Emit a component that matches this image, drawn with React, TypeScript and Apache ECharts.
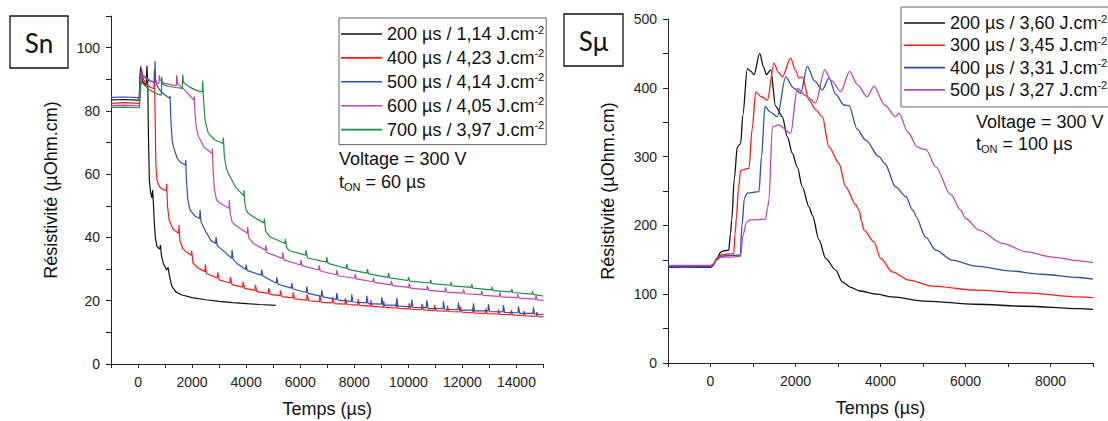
import React, { useEffect, useRef } from 'react';
import * as echarts from 'echarts';

const FONT = '"Liberation Sans", Arial, sans-serif';

// ---------- Sn panel ----------
const snPulse = ['200 µs', '400 µs', '500 µs', '600 µs', '700 µs'];
const snFluence = ['1,14', '4,23', '4,14', '4,05', '3,97'];
const snColors = ['#111111', '#ff1a1a', '#2f4fa8', '#b948b3', '#238b45'];
const snXRange = [-1000, 15000];
const snYRange = [0, 110];

const sn200: [number, number][] = [
  [-1000, 83.5], [-500, 83.6], [0, 83.4], [40, 83.5], [70, 91], [100, 94], [160, 89.5], [250, 88.5], [300, 88],
  [330, 94.3], [360, 89], [385, 72], [420, 58], [460, 54.5], [510, 52.5], [540, 55], [570, 50.5], [600, 45],
  [640, 40], [700, 37.2], [800, 36.3], [830, 37.6], [870, 34], [950, 31.5], [1060, 29.7], [1110, 30.6],
  [1160, 28], [1250, 24.6], [1400, 22.8], [1600, 21.9], [2000, 21], [2500, 20.3], [3000, 19.8], [3500, 19.4],
  [4000, 19.1], [4500, 18.8], [5100, 18.5],
];

const sn400: [number, number][] = [
  [-1000, 82.4], [-500, 82.6], [0, 82.4], [50, 82.5], [100, 90], [137, 93], [200, 90], [300, 88.5], [450, 87.5],
  [590, 87], [603, 92.8], [630, 80], [660, 63], [700, 58], [800, 56], [950, 55], [1045, 54.8], [1061, 57],
  [1090, 50], [1150, 45.5], [1300, 42.6], [1503, 41.3], [1517, 43.9], [1550, 39], [1650, 36.5], [1800, 35.3],
  [1972, 34.4], [1986, 35.8], [2030, 32], [2200, 30.4], [2477, 29.2], [2491, 31.5], [2530, 28.6],
  [2934, 27.2], [2946, 29], [3005, 26.6], [3403, 25.6], [3415, 27.5], [3474, 25.1],
  [3872, 24.3], [3884, 26], [3943, 23.9], [4328, 23.3], [4340, 25], [4399, 22.9],
  [4821, 22.3], [4833, 24], [4892, 22], [5253, 21.6], [5265, 23.2], [5324, 21.3],
  [5722, 20.9], [5734, 22.6], [5793, 20.6], [6240, 20.2], [6252, 22], [6311, 20],
  [6712, 19.7], [6724, 21.5], [6783, 19.5], [7184, 19.3], [7196, 21.1], [7255, 19.1],
  [7656, 18.9], [7668, 20.8], [7727, 18.8], [8128, 18.6], [8140, 20.5], [8199, 18.5],
  [8600, 18.3], [8612, 20.1], [8671, 18.2], [9072, 18.0], [9084, 19.8], [9143, 17.9],
  [9544, 17.7], [9556, 19.5], [9615, 17.6], [10016, 17.4], [10028, 19.2], [10087, 17.3],
  [10488, 17.2], [10500, 19.0], [10559, 17.1], [10960, 16.9], [10972, 18.6], [11031, 16.8],
  [11432, 16.7], [11444, 18.4], [11503, 16.6], [11904, 16.5], [11916, 18.1], [11975, 16.4],
  [12376, 16.2], [12388, 17.8], [12447, 16.1], [12848, 16.0], [12860, 17.5], [12919, 15.9],
  [13320, 15.8], [13332, 17.2], [13391, 15.7], [13792, 15.6], [13804, 17.0], [13863, 15.5],
  [14264, 15.3], [14276, 16.7], [14335, 15.2], [14736, 15.1], [14748, 16.4], [14807, 15.0],
  [15000, 14.9],
];

const sn500: [number, number][] = [
  [-1000, 84.3], [-500, 84.4], [0, 84.2], [50, 84.3], [80, 91], [100, 92.4], [200, 91], [350, 89.8], [500, 89.2],
  [615, 89], [629, 95.8], [650, 90], [700, 88], [800, 86.6], [1000, 85], [1170, 84], [1184, 84.8], [1215, 77],
  [1260, 71], [1307, 68.7], [1450, 65], [1600, 63.6], [1750, 62.9], [1764, 64.5], [1790, 58], [1840, 52],
  [1924, 48.7], [2100, 46.8], [2280, 46], [2294, 48.7], [2330, 45], [2479, 42.3], [2700, 39], [2872, 38.1],
  [2886, 40.2], [2930, 37.4], [3133, 36], [3464, 33.4], [3478, 36], [3520, 33], [3700, 31.5], [3982, 29.9],
  [3996, 31.4], [4040, 29.5], [4562, 28.1], [4576, 29.8], [4620, 27.8], [5118, 25.5], [5132, 27.4], [5180, 25.2],
  [5673, 24], [5687, 25.6], [5730, 23.7], [6227, 22.6], [6241, 24.5], [6290, 22.3], [6782, 21.4], [6796, 23.4],
  [6840, 21.2], [7337, 20.4], [7351, 22.4], [7400, 20.2], [7892, 19.8], [7906, 22], [7950, 19.6], [8447, 19.3],
  [8461, 21.6], [8510, 19.1], [9002, 18.9], [9016, 21.1], [9060, 18.7], [9557, 18.5], [9571, 20.8], [9620, 18.3],
  [10113, 18.1], [10127, 20.3], [10170, 17.9], [10668, 17.8], [10682, 20.1], [10730, 17.6], [11283, 17.5],
  [11297, 19.8], [11340, 17.3], [11838, 17.2], [11852, 19.4], [11900, 17.0], [12393, 17.0], [12407, 19.2],
  [12450, 16.8], [12948, 16.8], [12962, 18.9], [13010, 16.6], [13503, 16.5], [13517, 18.6], [13560, 16.3],
  [14058, 16.2], [14072, 18.2], [14120, 16.0], [14613, 16.0], [14627, 17.9], [14670, 15.8], [15000, 15.7],
];

const sn600: [number, number][] = [
  [-1000, 81.7], [-500, 81.8], [0, 81.6], [50, 81.7], [90, 89], [130, 91.8], [250, 90.8], [450, 89.6], [650, 88.9],
  [771, 88.7], [785, 91.3], [810, 89.8], [950, 88.8], [1200, 88.3], [1417, 88], [1431, 91.3], [1460, 88.6],
  [1650, 87.2], [1850, 85.5], [2066, 83.4], [2080, 84.6], [2110, 79], [2160, 74.5], [2232, 72], [2450, 68.5],
  [2736, 66.6], [2750, 68.1], [2775, 62], [2820, 55.5], [2900, 52], [3034, 50.8], [3365, 49.2], [3379, 51.8],
  [3410, 47.5], [3480, 45], [3589, 43.9], [4044, 41.3], [4058, 43.4], [4090, 40], [4268, 38.1], [4710, 36],
  [4724, 37.6], [4770, 35.2], [5339, 33.4], [5353, 35.2], [5400, 32.9], [6017, 31.3], [6031, 32.9], [6080, 31],
  [6683, 29.7], [6697, 31.2], [6740, 29.4], [7337, 28.2], [7351, 29.6], [7400, 27.9], [8015, 27.1], [8029, 28.4],
  [8080, 26.9], [8694, 26.0], [8708, 27.3], [8750, 25.8], [9356, 25.0], [9370, 26.3], [9420, 24.8], [10016, 24.2],
  [10030, 25.5], [10080, 24.0], [10686, 23.5], [10700, 24.8], [10750, 23.3], [11356, 22.9], [11370, 24.2],
  [11420, 22.7], [12026, 22.4], [12040, 23.6], [12090, 22.2], [12696, 21.9], [12710, 23.1], [12760, 21.7],
  [13366, 21.4], [13380, 22.6], [13430, 21.2], [14036, 21.0], [14050, 22.1], [14100, 20.8], [14706, 20.5],
  [14720, 21.6], [14770, 20.3], [15000, 20.1],
];

const sn700: [number, number][] = [
  [-1000, 81.1], [-500, 81.2], [0, 81.0], [50, 81.1], [90, 87], [125, 89.2], [250, 88], [450, 86.5], [700, 85.4],
  [862, 85], [876, 90.8], [900, 88.5], [1100, 87.8], [1400, 87.4], [1639, 87.1], [1653, 91.5], [1680, 89],
  [1900, 87.6], [2150, 86.5], [2379, 86], [2393, 89.5], [2420, 84], [2480, 77], [2602, 72.9], [2850, 70.8],
  [3144, 69.7], [3158, 71.6], [3190, 66], [3260, 62], [3342, 60.2], [3600, 56], [3908, 53.2], [3922, 55],
  [3950, 51], [4000, 48.8], [4083, 47.6], [4400, 45.8], [4660, 44.6], [4674, 46], [4720, 42], [4884, 40.2],
  [5437, 38.1], [5451, 39.5], [5500, 36.8], [5600, 35.8], [6202, 34.4], [6216, 36], [6270, 33.5], [6967, 32.2],
  [6981, 33.8], [7030, 31.8], [7708, 30.2], [7722, 31.6], [7770, 29.9], [8472, 28.7], [8486, 30], [8530, 28.5],
  [9249, 27.4], [9263, 28.7], [9310, 27.2], [9988, 26.4], [10002, 27.5], [10050, 26.2], [10809, 25.6],
  [10823, 26.6], [10870, 25.4], [11563, 24.9], [11577, 25.9], [11620, 24.7], [12329, 24.2], [12343, 25.2],
  [12390, 24.0], [13081, 23.4], [13095, 24.4], [13140, 23.2], [13810, 22.8], [13824, 23.7], [13870, 22.6],
  [14576, 22.1], [14590, 23.0], [14640, 21.9], [15000, 21.5],
];

const snData = [sn200, sn400, sn500, sn600, sn700];

// ---------- Sμ panel ----------
const smPulse = ['200 µs', '300 µs', '400 µs', '500 µs'];
const smFluence = ['3,60', '3,45', '3,31', '3,27'];
const smColors = ['#111111', '#ff1a1a', '#2f4fa8', '#b948b3'];
const smXRange = [-1000, 9000];
const smYRange = [0, 500];

const sm200: [number, number][] = [
  [-1000, 139], [-500, 139.3], [0, 139], [60, 141.5], [150, 152], [240, 161], [300, 163], [430, 164], [470, 188],
  [500, 208], [560, 268], [631, 314], [710, 319], [760, 360], [866, 428], [950, 424], [1024, 419], [1157, 450],
  [1250, 430], [1314, 419], [1416, 426], [1534, 373], [1690, 358], [1807, 329], [1925, 305], [2042, 285],
  [2160, 256], [2318, 227], [2396, 215], [2553, 179], [2711, 152], [2946, 135], [3101, 118], [3300, 110],
  [3494, 105], [3900, 100], [4278, 96], [5064, 90], [6240, 85.4], [7416, 82.5], [8671, 79], [9000, 78],
];

const sm300: [number, number][] = [
  [-1000, 140], [-500, 140.2], [0, 140], [60, 143], [150, 152], [240, 157], [350, 158], [546, 159], [580, 188],
  [608, 210], [660, 255], [710, 280], [906, 283], [980, 340], [1064, 394], [1200, 387], [1337, 382], [1494, 436],
  [1600, 422], [1690, 416], [1887, 443], [2000, 425], [2082, 414], [2160, 416], [2318, 382], [2475, 368],
  [2631, 358], [2788, 314], [3024, 290], [3181, 256], [3416, 230], [3494, 222], [3560, 205], [3612, 193],
  [3847, 176], [4004, 152], [4278, 132.5], [4671, 120.4], [5219, 111.6], [6240, 105.8], [7416, 101.9],
  [8671, 96], [9000, 95],
];

const sm400: [number, number][] = [
  [-1000, 140], [-500, 139.8], [0, 140], [60, 142], [150, 150], [240, 155], [400, 156], [700, 157], [740, 200],
  [800, 240], [866, 247], [1141, 249], [1200, 300], [1282, 373], [1400, 365], [1572, 358], [1769, 416],
  [1950, 400], [2122, 392], [2278, 431], [2450, 410], [2631, 397], [2788, 414], [2950, 390], [3141, 375],
  [3259, 374], [3450, 340], [3651, 324], [3965, 300], [4100, 290], [4357, 256], [4593, 242], [4760, 222],
  [4800, 219], [4828, 213], [5064, 183], [5299, 164], [5690, 149.5], [6240, 140.8], [7024, 134], [7807, 129],
  [8671, 124.3], [9000, 122],
];

const sm500: [number, number][] = [
  [-1000, 142], [-500, 142], [0, 141.8], [60, 144], [150, 150], [240, 154], [500, 154], [710, 155], [760, 185],
  [850, 205], [945, 208], [1298, 209], [1340, 225], [1376, 237], [1455, 343], [1600, 346], [1887, 334],
  [2042, 399], [2250, 388], [2475, 378], [2687, 426], [2850, 410], [3064, 394.5], [3275, 424], [3450, 405],
  [3690, 387], [3847, 402], [4100, 375], [4357, 358], [4435, 363], [4650, 335], [4867, 314], [5000, 311],
  [5071, 310], [5300, 285], [5650, 245], [5890, 222], [6005, 210], [6318, 193], [6866, 174], [7416, 162],
  [8042, 154], [8671, 148.5], [9000, 146],
];

const smData = [sm200, sm300, sm400, sm500];

const snNames = snPulse.map((p, i) => `${p} / ${snFluence[i]} J.cm-2`);
const smNames = smPulse.map((p, i) => `${p} / ${smFluence[i]} J.cm-2`);

const legendText = (name: string) => `{m|${name.slice(0, -2)}}{s|-2}`;
const legendRich = {
  m: { fontSize: 18, lineHeight: 20, fontFamily: FONT, color: '#111' },
  s: { fontSize: 11, lineHeight: 11, verticalAlign: 'top', fontFamily: FONT, color: '#111' },
};

function xAxisCfg(gridIndex: number, range: number[], gap: number) {
  return {
    type: 'value', gridIndex, min: range[0], max: range[1], interval: 1000,
    axisLine: { show: true, onZero: false, lineStyle: { color: '#222', width: 1 } },
    axisTick: { show: true, length: 4, lineStyle: { color: '#222' } },
    axisLabel: {
      fontSize: 14, color: '#222', margin: 11, fontFamily: FONT,
      formatter: (v: number) => (v >= 0 && v % 2000 === 0 ? String(v) : ''),
    },
    splitLine: { show: false },
    name: 'Temps (µs)', nameLocation: 'middle', nameGap: gap,
    nameTextStyle: { fontSize: 18, color: '#111', fontFamily: FONT },
  };
}

function yAxisCfg(gridIndex: number, range: number[], step: number, labelStep: number, gap: number) {
  return {
    type: 'value', gridIndex, min: range[0], max: range[1], interval: step,
    axisLine: { show: true, onZero: false, lineStyle: { color: '#222', width: 1 } },
    axisTick: { show: true, length: 5, lineStyle: { color: '#222' } },
    axisLabel: {
      fontSize: 14, color: '#222', margin: 11, fontFamily: FONT,
      formatter: (v: number) => (v % labelStep === 0 ? String(v) : ''),
    },
    splitLine: { show: false },
    name: 'Résistivité (µOhm.cm)', nameLocation: 'middle', nameGap: gap, nameRotate: 90,
    nameTextStyle: { fontSize: 18, color: '#111', fontFamily: FONT },
  };
}

function buildOption() {
  const series: any[] = [];
  snData.forEach((d, i) => {
    series.push({
      type: 'line', name: snNames[i], xAxisIndex: 0, yAxisIndex: 0, data: d,
      showSymbol: false, symbol: 'none', color: snColors[i], silent: true,
      lineStyle: { width: 1.2, color: snColors[i] },
    });
  });
  smData.forEach((d, i) => {
    series.push({
      type: 'line', name: smNames[i], xAxisIndex: 1, yAxisIndex: 1, data: d,
      showSymbol: false, symbol: 'none', color: smColors[i], silent: true,
      smooth: 0.3, smoothMonotone: 'x',
      lineStyle: { width: 1.3, color: smColors[i] },
    });
  });

  const txt = (x: number, y: number, text: string) => ({
    type: 'text', x, y,
    style: {
      text, fontSize: 18, lineHeight: 20, fontFamily: FONT, fill: '#111', verticalAlign: 'middle',
      rich: { sub: { fontSize: 11, lineHeight: 8, verticalAlign: 'bottom', fontFamily: FONT, fill: '#111' } },
    },
  });

  const legendBase = {
    orient: 'vertical', icon: 'rect', itemWidth: 41, itemHeight: 1.6,
    borderColor: '#666', borderWidth: 1, selectedMode: false, formatter: legendText,
    textStyle: { fontFamily: FONT, fontSize: 18, color: '#111', rich: legendRich },
  };

  return {
    animation: false,
    backgroundColor: '#ffffff',
    grid: [
      { left: 111, top: 16, width: 432.5, height: 348, containLabel: false, outerBoundsMode: 'none' },
      { left: 668, top: 19, width: 425, height: 344, containLabel: false, outerBoundsMode: 'none' },
    ],
    xAxis: [xAxisCfg(0, snXRange, 36), xAxisCfg(1, smXRange, 36)],
    yAxis: [yAxisCfg(0, snYRange, 10, 20, 51), yAxisCfg(1, smYRange, 50, 100, 51)],
    legend: [
      { ...legendBase, left: 339, top: 18, padding: [6, 2, 6, 2], itemGap: 4.9, data: snNames },
      { ...legendBase, left: 901, top: 7, padding: [6, 2, 8, 3], itemGap: 3.3, data: smNames },
    ],
    graphic: [
      { type: 'rect', shape: { x: 10, y: 16, width: 58, height: 52 }, style: { fill: '#fff', stroke: '#111', lineWidth: 1.3 } },
      { type: 'text', x: 39, y: 43, style: { text: 'Sn', fontSize: 26, fontFamily: 'Lato, "Open Sans", sans-serif', fill: '#111', align: 'center', verticalAlign: 'middle' } },
      { type: 'rect', shape: { x: 564, y: 14, width: 59, height: 52 }, style: { fill: '#fff', stroke: '#111', lineWidth: 1.3 } },
      { type: 'text', x: 593.5, y: 41, style: { text: 'Sμ', fontSize: 26, fontFamily: 'Lato, "Open Sans", sans-serif', fill: '#111', align: 'center', verticalAlign: 'middle' } },
      txt(339, 159, 'Voltage = 300 V'),
      txt(339, 182, 't{sub|ON} = 60 µs'),
      txt(976, 122, 'Voltage = 300 V'),
      txt(976, 144, 't{sub|ON} = 100 µs'),
    ],
    series,
  };
}

export default function App() {
  const ref = useRef<HTMLDivElement>(null);
  useEffect(() => {
    if (!ref.current) return;
    const chart = echarts.init(ref.current, undefined, { renderer: 'svg' });
    chart.setOption(buildOption() as any);
    return () => chart.dispose();
  }, []);
  return (
    <div
      ref={ref}
      style={{ position: 'absolute', left: 0, top: 0, width: 1108, height: 421, background: '#fff' }}
    />
  );
}
